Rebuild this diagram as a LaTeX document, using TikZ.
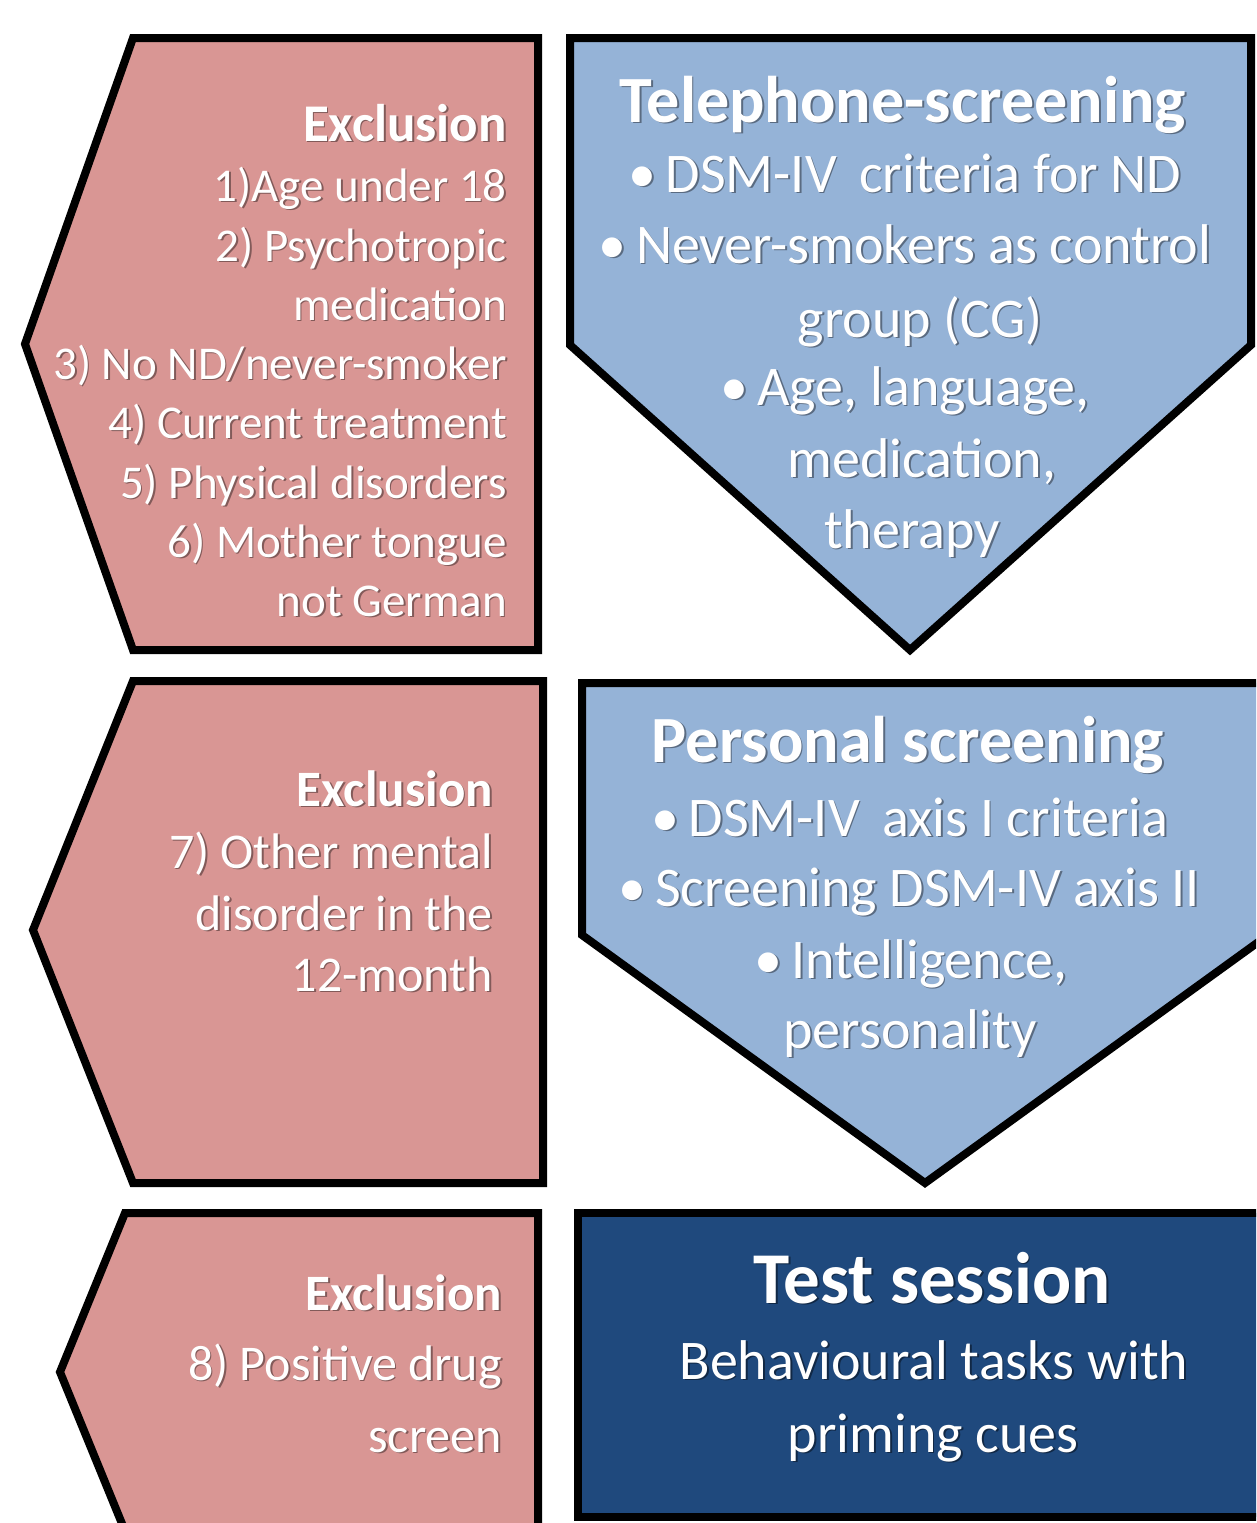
\documentclass[tikz,border=0pt]{standalone}
\usepackage{fontspec}
\setmainfont{Carlito}
\definecolor{pinkc}{HTML}{D99694}
\definecolor{bluec}{HTML}{95B3D7}
\definecolor{darkc}{HTML}{1F497D}
\newcommand\shcol{black}
\newcommand\shd[1]{\leavevmode\rlap{\kern1.8pt\raisebox{-1.8pt}{\textcolor{\shcol}{#1}}}#1}
\newcommand\fsz[1]{\fontsize{#1}{#1}\selectfont}
\tikzset{
  shp/.style={draw=black, line width=8pt, line join=miter, miter limit=6},
  lbl/.style={inner sep=0pt, text=white},
  onpink/.style={lbl, anchor=base east, execute at begin node={\renewcommand\shcol{pinkc!60!black}}},
  onblue/.style={lbl, anchor=base, execute at begin node={\renewcommand\shcol{bluec!60!black}}},
  ondark/.style={lbl, anchor=base, execute at begin node={\renewcommand\shcol{darkc!55!black}}},
}
\begin{document}
\begin{tikzpicture}[x=1pt, y=-1pt]
\useasboundingbox (0,0) rectangle (1256,1523);
\fill[white] (0,0) rectangle (1256,1523);
\begin{scope}
  \clip (0,0) rectangle (1256,1523);
  % pink arrows
  \path[shp, fill=pinkc] (133,38) -- (538,38) -- (538,650) -- (133,650) -- (25,344) -- cycle;
  \path[shp, fill=pinkc] (133,681) -- (543,681) -- (543,1183) -- (133,1183) -- (33,930) -- cycle;
  \path[shp, fill=pinkc] (125,1213) -- (538,1213) -- (538,1545) -- (125,1545) -- (125,1531) -- (60,1372) -- cycle;
  % blue chevrons
  \path[shp, fill=bluec] (570,38) -- (1251,38) -- (1251,345) -- (910,650) -- (570,345) -- cycle;
  \path[shp, fill=bluec] (582,683) -- (1268,683) -- (1268,935) -- (925,1183) -- (582,935) -- cycle;
  % test session box
  \path[shp, fill=darkc] (578,1213) rectangle (1275,1517);
\end{scope}

% --- top exclusion
\node[onpink, font=\bfseries\fsz{53}] (e1h) at (507,141) {\shd{Exclusion}};
\node[onpink, font=\fsz{47}] (e1a) at (507,201) {\shd{1)Age under 18}};
\node[onpink, font=\fsz{47}] (e1b) at (507,261) {\shd{2) Psychotropic}};
\node[onpink, font=\fsz{47}] (e1c) at (507,320) {\shd{medication}};
\node[onpink, font=\fsz{47}] (e1d) at (507,379) {\shd{3) No ND/never-smoker}};
\node[onpink, font=\fsz{47}] (e1e) at (507,438) {\shd{4) Current treatment}};
\node[onpink, font=\fsz{47}] (e1f) at (507,498) {\shd{5) Physical disorders}};
\node[onpink, font=\fsz{47}] (e1g) at (507,557) {\shd{6) Mother tongue}};
\node[onpink, font=\fsz{47}] (e1i) at (507,616) {\shd{not German}};

% --- telephone screening
\node[onblue, font=\bfseries\fsz{66}] (t0) at (903,122) {\shd{Telephone-screening}};
\node[onblue, font=\fsz{56}] (t1) at (905,192) {\shd{•\,DSM-IV\hspace{0.4em}criteria for ND}};
\node[onblue, font=\fsz{56}] (t2) at (905,263) {\shd{•\,Never-smokers as control}};
\node[onblue, font=\fsz{56}] (t3) at (920,337) {\shd{group (CG)}};
\node[onblue, font=\fsz{56}] (t4) at (905,405) {\shd{•\,Age, language,}};
\node[onblue, font=\fsz{56}] (t5) at (922,477) {\shd{medication,}};
\node[onblue, font=\fsz{56}] (t6) at (912,548) {\shd{therapy}};

% --- middle exclusion
\node[onpink, font=\bfseries\fsz{51}] (e2h) at (493,806) {\shd{Exclusion}};
\node[onpink, font=\fsz{50}] (e2a) at (493,868) {\shd{7) Other mental}};
\node[onpink, font=\fsz{50}] (e2b) at (493,930) {\shd{disorder in the}};
\node[onpink, font=\fsz{50}] (e2c) at (493,991) {\shd{12-month}};

% --- personal screening
\node[onblue, font=\bfseries\fsz{66}] (p0) at (908,762) {\shd{Personal screening}};
\node[onblue, font=\fsz{56}] (p1) at (910,836) {\shd{•\,DSM-IV\hspace{0.4em}axis I criteria}};
\node[onblue, font=\fsz{56}] (p2) at (909,906) {\shd{•\,Screening DSM-IV axis II}};
\node[onblue, font=\fsz{56}] (p3) at (911,978) {\shd{•\,Intelligence,}};
\node[onblue, font=\fsz{56}] (p4) at (910,1048) {\shd{personality}};

% --- bottom exclusion
\node[onpink, font=\bfseries\fsz{51}] (e3h) at (502,1310) {\shd{Exclusion}};
\node[onpink, font=\fsz{50}] (e3a) at (502,1380) {\shd{8) Positive drug}};
\node[onpink, font=\fsz{50}] (e3b) at (502,1452) {\shd{screen}};

% --- test session
\node[ondark, font=\bfseries\fsz{73}] (s0) at (932,1303) {\shd{Test session}};
\node[ondark, font=\fsz{56}] (s1) at (934,1379) {\shd{Behavioural tasks with}};
\node[ondark, font=\fsz{56}] (s2) at (933,1452) {\shd{priming cues}};
\end{tikzpicture}
\end{document}
